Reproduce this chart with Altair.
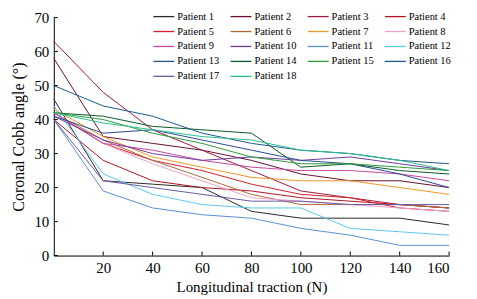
import altair as alt
import pandas as pd

traction = [0, 20, 40, 60, 80, 100, 120, 140, 160]
patients = [f"Patient {i}" for i in range(1, 19)]

p1 = [46, 22, 21, 20, 13, 11, 11, 11, 9]
p2 = [58, 35, 33, 31, 28, 24, 22, 22, 20]
p3 = [63, 48, 37, 31, 25, 19, 17, 15, 14]
p4 = [40, 28, 22, 20, 19, 17, 16, 15, 14]
p5 = [42, 33, 28, 25, 21, 18, 17, 14, 13]
p6 = [42, 34, 28, 23, 18, 15, 15, 15, 14]
p7 = [43, 35, 29, 26, 23, 22, 22, 20, 18]
p8 = [42, 33, 27, 22, 17, 16, 15, 14, 13]
p9 = [42, 33, 31, 28, 26, 25, 25, 24, 22]
p10 = [41, 34, 30, 28, 29, 28, 29, 27, 25]
p11 = [40, 19, 14, 12, 11, 8, 6, 3, 3]
p12 = [44, 24, 18, 15, 14, 14, 8, 7, 6]
p13 = [41, 36, 37, 34, 31, 28, 27, 24, 20]
p14 = [42, 41, 38, 37, 36, 26, 27, 25, 24]
p15 = [42, 40, 36, 33, 29, 27, 27, 26, 25]
p16 = [50, 44, 41, 36, 33, 31, 30, 28, 27]
p17 = [40, 22, 20, 18, 16, 16, 15, 15, 15]
p18 = [42, 39, 37, 35, 34, 31, 30, 28, 25]
series = [p1, p2, p3, p4, p5, p6, p7, p8, p9, p10, p11, p12, p13, p14, p15, p16, p17, p18]

colors = ["#2a2a2a", "#6a0f33", "#9e1b3f", "#b01622", "#d8202c", "#b06a3a",
          "#f0962a", "#f0a0c8", "#c9479f", "#6d3a9e", "#5a8fd8", "#5ac8f0",
          "#2a4a9a", "#0e5a2a", "#2e9a3a", "#1d5a8e", "#6a5aa8", "#2bbf8e"]

x_ticks = [20, 40, 60, 80, 100, 120, 140, 160]
y_ticks = [0, 10, 20, 30, 40, 50, 60, 70]

rows = []
for name, vals in zip(patients, series):
    for i, (t, v) in enumerate(zip(traction, vals)):
        rows.append({"patient": name, "traction": t, "angle": v, "order": i})
df = pd.DataFrame(rows)

W, H = 397, 239
FONT = "Liberation Serif"
xs = alt.Scale(domain=[0, 160], nice=False, zero=False)
ys = alt.Scale(domain=[0, 70], nice=False)
xaxis = alt.Axis(values=x_ticks, title="Longitudinal traction (N)", titleFontSize=15)
yaxis = alt.Axis(values=y_ticks, title="Coronal Cobb angle (°)", titleFontSize=16,
                 titlePadding=7)
cscale = alt.Scale(domain=patients, range=colors)

lines = alt.Chart(df).mark_line(strokeWidth=1).encode(
    x=alt.X("traction:Q", scale=xs, axis=xaxis),
    y=alt.Y("angle:Q", scale=ys, axis=yaxis),
    color=alt.Color("patient:N", scale=cscale, legend=None),
    order="order:Q",
)

xt = alt.Chart(pd.DataFrame({"traction": x_ticks})).mark_rule(color="black", strokeWidth=1).encode(
    x=alt.X("traction:Q", scale=xs, axis=xaxis),
    y=alt.value(H),
    y2=alt.value(H - 4),
)
yt = alt.Chart(pd.DataFrame({"angle": y_ticks})).mark_rule(color="black", strokeWidth=1).encode(
    y=alt.Y("angle:Q", scale=ys, axis=yaxis),
    x=alt.value(0),
    x2=alt.value(4),
)

# manual legend: 4 columns, row-major
leg = pd.DataFrame({"patient": patients, "idx": list(range(len(patients)))})
leg["col"] = leg["idx"] % 4
leg["row"] = leg["idx"] // 4
leg["x0"] = 100 + leg["col"] * 77.5
leg["x1"] = leg["x0"] + 21
leg["xt"] = leg["x0"] + 24
leg["y"] = -1 + leg["row"] * 15

leg_lines = alt.Chart(leg).mark_rule(strokeWidth=1.3).encode(
    x=alt.X("x0:Q", scale=None, axis=None),
    x2="x1:Q",
    y=alt.Y("y:Q", scale=None, axis=None),
    color=alt.Color("patient:N", scale=cscale, legend=None),
)
leg_text = alt.Chart(leg).mark_text(align="left", baseline="middle", font=FONT,
                                     fontSize=10.5, color="black").encode(
    x=alt.X("xt:Q", scale=None, axis=None),
    y=alt.Y("y:Q", scale=None, axis=None),
    text="patient:N",
)

plot = alt.layer(lines, xt, yt)
legend = alt.layer(leg_lines, leg_text)

chart = alt.layer(plot, legend).resolve_scale(x="independent", y="independent").properties(
    width=W, height=H,
    padding={"left": 46, "top": 9, "right": 20, "bottom": 43},
    autosize=alt.AutoSizeParams(type="none"),
).configure_view(stroke=None).configure_axis(
    domainColor="black", labelColor="black", titleColor="black", grid=False,
    labelFont=FONT, titleFont=FONT,
    labelFontSize=15, titleFontWeight="normal",
    tickSize=0, labelPadding=5, ticks=False, labelOverlap=False,
).configure_text(font=FONT)

chart.save("out.html", embed_options={"renderer": "svg", "actions": False})
